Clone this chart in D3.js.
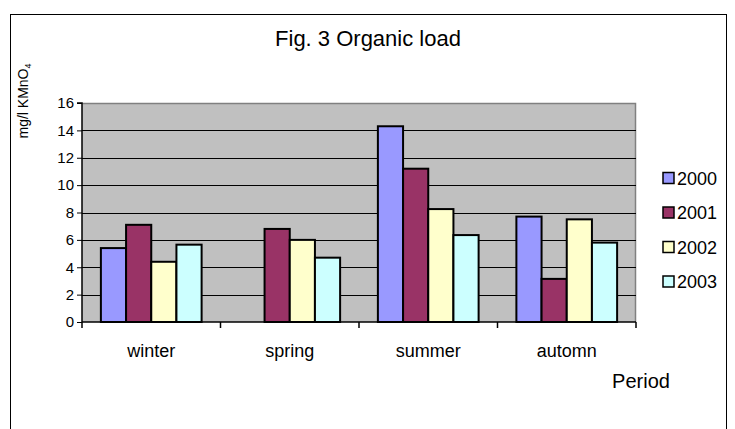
<!DOCTYPE html>
<html><head><meta charset="utf-8">
<script src="https://cdn.jsdelivr.net/npm/d3@7"></script>
<style>body{margin:0;background:#fff;} svg{display:block;font-family:"Liberation Sans",Arial,sans-serif;}</style>
</head><body>
<svg id="c" width="735" height="429"></svg>
<script>
const categories = ["winter","spring","summer","automn"];
const seriesNames = ["2000","2001","2002","2003"];
const values2000 = [5.4, null, 14.3, 7.7];
const values2001 = [7.1, 6.8, 11.2, 3.15];
const values2002 = [4.4, 6.0, 8.25, 7.5];
const values2003 = [5.65, 4.7, 6.35, 5.8];
const yTicks = [0,2,4,6,8,10,12,14,16];
const colors = ["#9999FF","#993366","#FFFFCC","#CCFFFF"];
const series = [values2000, values2001, values2002, values2003];

const svg = d3.select("#c");
const m = {l:82, r:636, t:103, b:322};
const FF = "Liberation Sans, Arial, sans-serif";

svg.append("rect").attr("x",10.5).attr("y",14.5).attr("width",716).attr("height",430)
  .attr("fill","none").attr("stroke","#000").attr("stroke-width",1);

svg.append("text").attr("x",368).attr("y",46).attr("text-anchor","middle")
  .attr("font-size",22).text("Fig. 3 Organic load");

const x0 = d3.scaleBand().domain(categories).range([m.l, m.r]).paddingInner(0).paddingOuter(0);
const bw = x0.bandwidth()/5.5;
const x1 = d3.scaleBand().domain(seriesNames).range([bw*0.75, x0.bandwidth()-bw*0.75]);
const y = d3.scaleLinear().domain([0,16]).range([m.b, m.t]);

svg.append("rect").attr("x",m.l).attr("y",m.t).attr("width",m.r-m.l).attr("height",m.b-m.t)
  .attr("fill","#C0C0C0");
svg.append("path").attr("d",`M${m.l},${m.t+0.5}H${m.r-0.5}V${m.b}`).attr("fill","none")
  .attr("stroke","#808080").attr("stroke-width",1.5);

svg.append("g").selectAll("line").data(yTicks.filter(d=>d>0 && d<16)).join("line")
  .attr("x1",m.l).attr("x2",m.r).attr("y1",d=>Math.round(y(d))+0.5).attr("y2",d=>Math.round(y(d))+0.5)
  .attr("stroke","#000").attr("stroke-width",1);

const groups = svg.append("g").selectAll("g").data(categories).join("g")
  .attr("transform",c=>`translate(${x0(c)},0)`);
groups.selectAll("rect").data((c,i)=>series.map((s,j)=>({k:seriesNames[j], v:s[i], j})).filter(d=>d.v!=null))
  .join("rect")
  .attr("x",d=>x1(d.k)).attr("width",x1.bandwidth())
  .attr("y",d=>y(d.v)).attr("height",d=>y(0)-y(d.v))
  .attr("fill",d=>colors[d.j]).attr("stroke","#000").attr("stroke-width",2);

const yAxis = svg.append("g").attr("transform",`translate(${m.l},0)`)
  .call(d3.axisLeft(y).tickValues(yTicks).tickSize(5).tickPadding(3).tickFormat(d3.format("d")));
yAxis.select(".domain").attr("stroke","#000").attr("stroke-width",1.5).attr("d",`M-5,${m.t}H0V${m.b}`);
yAxis.selectAll("text").attr("font-size",15).attr("font-family",FF).attr("fill","#000");

const xAxis = svg.append("g").attr("transform",`translate(0,${m.b})`)
  .call(d3.axisBottom(x0).tickSize(0).tickPadding(22));
xAxis.select(".domain").attr("stroke","#000").attr("stroke-width",1.5).attr("d",`M${m.l},0H${m.r}`);
xAxis.selectAll("text").attr("font-size",18).attr("font-family",FF).attr("fill","#000");
const bounds = categories.map(c=>x0(c)).concat([m.r]);
xAxis.append("g").selectAll("line").data(bounds).join("line")
  .attr("x1",d=>d).attr("x2",d=>d).attr("y1",0).attr("y2",6).attr("stroke","#000").attr("stroke-width",1.5);

svg.append("text").attr("x",641).attr("y",388).attr("text-anchor","middle").attr("font-size",20).text("Period");

const yl = svg.append("text").attr("transform","translate(28,101) rotate(-90)")
  .attr("text-anchor","middle").attr("font-size",14);
yl.append("tspan").text("mg/l KMnO");
yl.append("tspan").attr("font-size",9).attr("dy",3).text("4");

const leg = svg.append("g").selectAll("g").data(seriesNames).join("g")
  .attr("transform",(d,i)=>`translate(663,${178+i*34.5})`);
leg.append("rect").attr("x",0).attr("y",-5.5).attr("width",11).attr("height",11)
  .attr("fill",(d,i)=>colors[i]).attr("stroke","#000").attr("stroke-width",1.5);
leg.append("text").attr("x",14).attr("y",6.5).attr("font-size",18).text(d=>d);
</script>
</body></html>
